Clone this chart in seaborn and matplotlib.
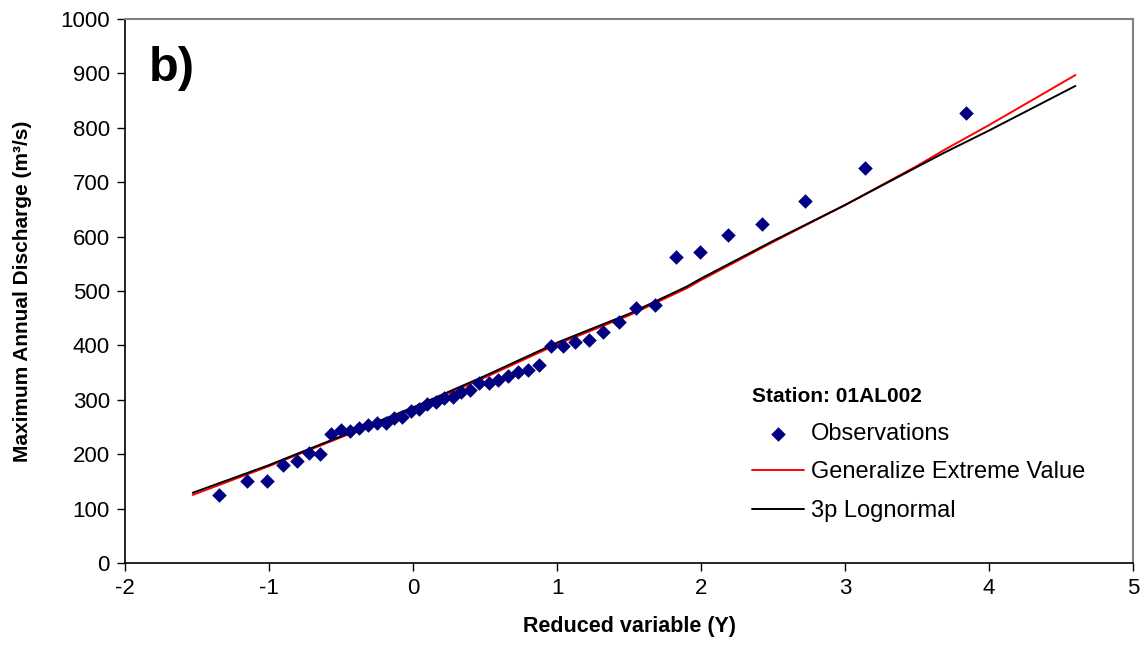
import matplotlib
matplotlib.use("Agg")
import matplotlib.pyplot as plt
import seaborn as sns
import pandas as pd

# ---------------- DATA ----------------
# reduced variate (Gumbel Y) of the observations
obs_y = [-1.348, -1.150, -1.012, -0.902, -0.807, -0.722, -0.644, -0.571, -0.503, -0.437,
         -0.373, -0.311, -0.251, -0.191, -0.133, -0.075, -0.017, 0.041, 0.099, 0.158,
         0.216, 0.276, 0.336, 0.397, 0.460, 0.525, 0.590, 0.658, 0.728, 0.801,
         0.877, 0.957, 1.040, 1.128, 1.222, 1.322, 1.430, 1.549, 1.678, 1.824,
         1.991, 2.185, 2.420, 2.719, 3.136, 3.839]
obs_q = [125, 151, 151, 180, 187, 202, 200, 237, 244, 243,
         248, 254, 257, 257, 267, 268, 279, 283, 292, 296,
         303, 305, 314, 318, 331, 331, 336, 344, 351, 355,
         364, 399, 399, 406, 410, 425, 443, 469, 474, 562,
         572, 603, 623, 665, 726, 827]

fit_y = [-1.53, -1.0, -0.5, 0.0, 0.5, 1.0, 1.5, 1.9, 2.0, 2.5, 3.0, 3.5, 3.68, 4.0, 4.6]
gev_q = [125, 178, 231, 283, 341, 402, 455, 505, 520, 590, 658, 730, 758, 805, 897]
logn_q = [129, 180, 233, 286, 344, 405, 458, 508, 523, 592, 658, 728, 753, 795, 877]

obs = pd.DataFrame({"Y": obs_y, "Q": obs_q})
fits = pd.DataFrame({"Y": fit_y, "GEV": gev_q, "LN3": logn_q})

# ---------------- PLOT ----------------
sns.set_style("ticks")
plt.rcParams["font.family"] = ["Liberation Sans", "DejaVu Sans"]
plt.rcParams["axes.unicode_minus"] = False
plt.rcParams["text.color"] = "black"
plt.rcParams["axes.labelcolor"] = "black"
plt.rcParams["xtick.color"] = "black"
plt.rcParams["ytick.color"] = "black"

fig = plt.figure(figsize=(11.43, 6.48), dpi=100)
ax = fig.add_axes([0.1094, 0.1312, 0.8819, 0.8395])

sns.lineplot(data=fits, x="Y", y="GEV", color="red", lw=1.4,
             label="Generalize Extreme Value", ax=ax)
sns.lineplot(data=fits, x="Y", y="LN3", color="black", lw=1.4,
             label="3p Lognormal", ax=ax)
sns.scatterplot(data=obs, x="Y", y="Q", marker="D", color="#000080", s=55,
                edgecolor="#000080", linewidth=0, label="Observations", ax=ax, zorder=3)

ax.set_xlim(-2, 5)
ax.set_ylim(0, 1000)
ax.set_xticks(range(-2, 6))
ax.set_yticks(range(0, 1001, 100))
ax.tick_params(labelsize=16, length=6, width=1, direction="out", pad=5,
               colors="black")

for side in ["top", "right"]:
    ax.spines[side].set_color("#808080")
    ax.spines[side].set_linewidth(1.5)
for side in ["left", "bottom"]:
    ax.spines[side].set_color("black")
    ax.spines[side].set_linewidth(1.2)

ax.set_xlabel("Reduced variable (Y)", fontsize=15.5, fontweight="bold", labelpad=12)
ax.set_ylabel("Maximum Annual Discharge (m³/s)", fontsize=15, fontweight="bold", labelpad=20)

ax.text(0.024, 0.95, "b)", transform=ax.transAxes, fontsize=35, fontweight="bold",
        va="top", ha="left")

handles, labels = ax.get_legend_handles_labels()
order = [2, 0, 1]
leg = ax.legend([handles[i] for i in order], [labels[i] for i in order],
                title="Station: 01AL002", loc="upper left",
                bbox_to_anchor=(0.622, 0.323), frameon=False, fontsize=17,
                title_fontproperties={"weight": "bold", "size": 15},
                alignment="left", handlelength=2.2, handletextpad=0.3,
                labelspacing=0.7, borderpad=0, borderaxespad=0)

fig.savefig("out.png", dpi=100)
